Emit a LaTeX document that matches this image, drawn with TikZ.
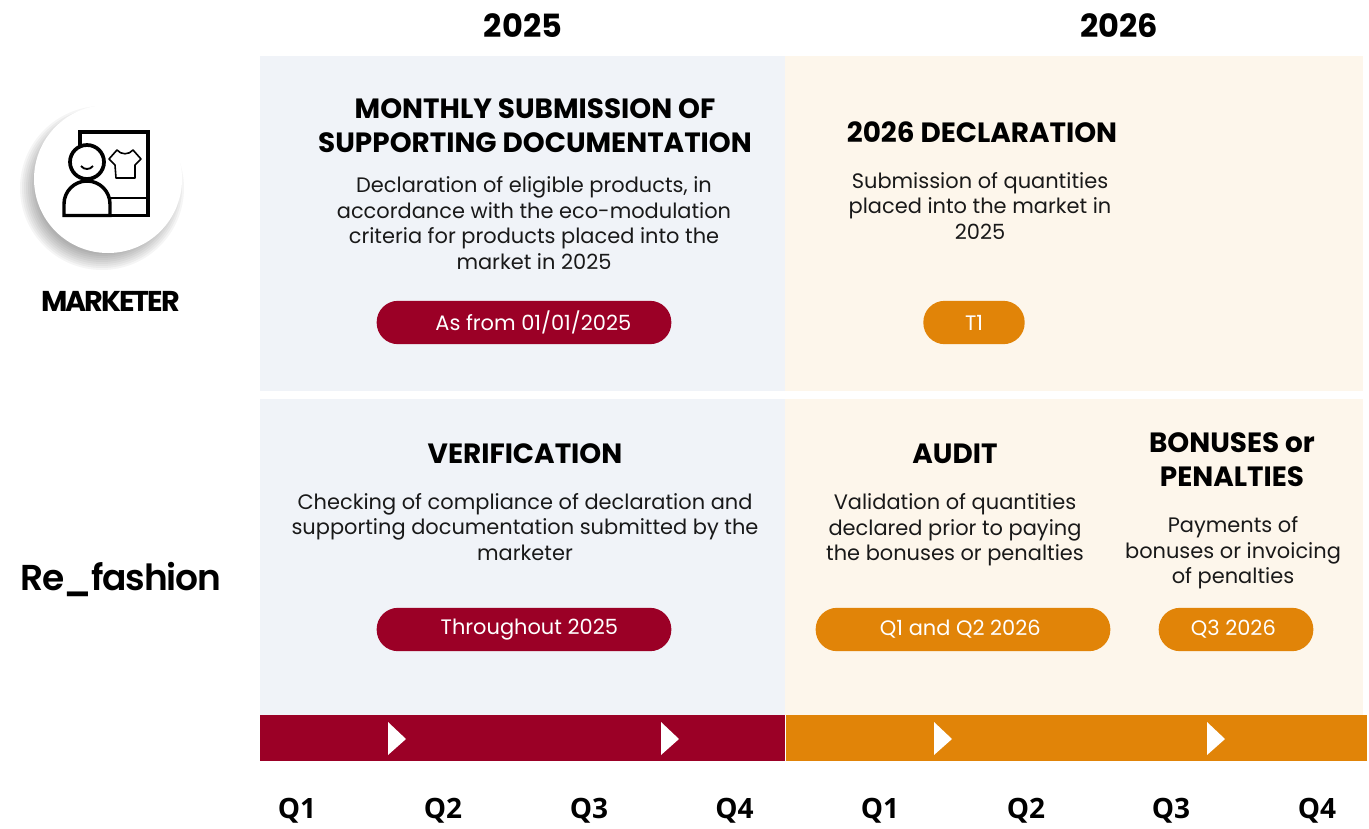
\documentclass[tikz,border=0pt]{standalone}
\usepackage{fontspec}
\setmainfont{Poppins}
\newfontfamily\quarterfont{Open Sans}
\newfontfamily\tightfont[BoldFeatures={LetterSpace=-7}]{Poppins}
\newfontfamily\logofont[LetterSpace=-3]{Poppins SemiBold}
\usetikzlibrary{arrows.meta}

\begin{document}
\begin{tikzpicture}[x=.75pt, y=-.75pt]
	\definecolor{bluecolor}{RGB}{240, 243, 248}
	\definecolor{creamcolor}{RGB}{253, 246, 235}
	\definecolor{redcolor}{RGB}{155, 0, 38}
	\definecolor{orangecolor}{RGB}{225, 132, 8}

	\tikzset{
		yearlabel/.style={font=\bfseries\fontsize{24}{26}\selectfont},
		quarter/.style={font=\quarterfont\bfseries\fontsize{21}{24}\selectfont},
		heading/.style={font=\bfseries\fontsize{20.9}{25.5}\selectfont, align=center},
		body/.style={font=\fontsize{15.7}{19.2}\selectfont, align=center, text=black!90},
		pill/.style={rounded corners=16pt, minimum height=32.5pt, text=white, inner sep=0pt,
			font=\fontsize{15.7}{19}\selectfont},
		tick/.style={fill=white},
	}
	\useasboundingbox (0, 0) rectangle (1369, 828);

	% \drawtick#x
	\def\drawtick#1{
		\fill[tick] (#1, 722) -- (#1 + 18, 739) -- (#1, 755) -- cycle;
	}

	% panels
	\fill[bluecolor] (259.5, 56) rectangle (785, 391);
	\fill[creamcolor] (785, 56) rectangle (1363, 391);
	\fill[bluecolor] (259.5, 399) rectangle (785, 715);
	\fill[creamcolor] (785, 399) rectangle (1363, 715);

	% time bar
	\fill[redcolor] (260, 715) rectangle (785, 761);
	\fill[orangecolor] (786, 715) rectangle (1367, 761);
	\foreach \x in {388, 661, 934, 1207} {
		\drawtick{\x}
	}

	% years
	\node[yearlabel] (y2025) at (523, 26) {2025};
	\node[yearlabel] (y2026) at (1119, 26) {2026};

	% quarters
	\foreach \x/\q/\n in {297/Q1/a, 443/Q2/b, 589/Q3/c, 734.5/Q4/d, 880/Q1/e, 1026/Q2/f, 1171/Q3/g, 1317/Q4/h} {
		\node[quarter] (q\n) at (\x, 810.5) {\q};
	}

	% top row
	\node[heading] (monthly) at (535, 126) {MONTHLY SUBMISSION OF\\SUPPORTING DOCUMENTATION};
	\node[body] (monthlytext) at (534, 223) {Declaration of eligible products, in\\accordance with the eco-modulation\\criteria for products placed into the\\market in 2025};
	\node[pill, fill=redcolor, minimum width=221pt] (asfrom) at (524, 322.5) {\hspace{14pt}As from 01/01/2025};
	\node[heading] (declaration) at (982, 132.5) {2026 DECLARATION};
	\node[body] (declarationtext) at (980, 206) {Submission of quantities\\placed into the market in\\2025};
	\node[pill, fill=orangecolor, minimum width=76pt] (tone) at (974, 322.5) {T1};

	% bottom row
	\node[heading] (verification) at (525, 454) {VERIFICATION};
	\node[body] (verificationtext) at (525, 527) {Checking of compliance of declaration and\\supporting documentation submitted by the\\marketer};
	\node[pill, fill=redcolor, minimum width=221pt] (throughout) at (524, 629.5) {\hspace{8pt}Throughout 2025};
	\node[heading] (audit) at (955, 454) {AUDIT};
	\node[body] (audittext) at (955, 530) {Validation of quantities\\declared prior to paying\\the bonuses or penalties};
	\node[pill, fill=orangecolor, minimum width=221pt] (qonetwo) at (963, 629.5) {\hspace{-4pt}Q1 and Q2 2026};
	\node[heading] (bonuses) at (1232, 460) {BONUSES or\\PENALTIES};
	\node[body] (bonusestext) at (1233, 553) {Payments of\\bonuses or invoicing\\of penalties};
	\node[pill, fill=orangecolor, minimum width=116pt] (qthree) at (1236, 629.5) {\hspace{-4pt}Q3 2026};

	% left column
	\foreach \r in {82, 80, ..., 66} {
		\fill[black, opacity=.04] (102, 188) circle (\r);
	}
	\node[circle, fill=white, minimum size=111pt, inner sep=0pt] (badge) at (108, 179) {};
	\node[font=\tightfont\bfseries\fontsize{21.5}{24}\selectfont] (marketer) at (110.5, 301) {MARKETER};
	\node[font=\logofont\fontsize{27}{32}\selectfont] (refashion) at (121, 579) {Re\_fashion};

	% icon
	\draw[line width=2.6pt] (80, 158) |- (148, 132) -- (148, 215.5) -- (110, 215.5);
	\draw[line width=2.2pt] (110, 198) -- (148, 198);
	\draw[line width=2.6pt, fill=white] (64, 215.5) -- (64, 204) arc[start angle=180, end angle=360, x radius=23, y radius=23] -- (110, 215.5) -- cycle;
	\draw[line width=2.8pt, fill=white] (87, 162) circle (17);
	\draw[line width=1.4pt] (81, 166) .. controls (84, 170) and (90, 170) .. (93, 166);
	\draw[line width=1.2pt, line join=round] (117, 150) -- (109, 159) -- (115, 165) -- (116, 178) -- (135, 178) -- (135, 165) -- (141, 159) -- (133, 150) .. controls (129, 155) and (121, 155) .. (117, 150) -- cycle;
\end{tikzpicture}
\end{document}
